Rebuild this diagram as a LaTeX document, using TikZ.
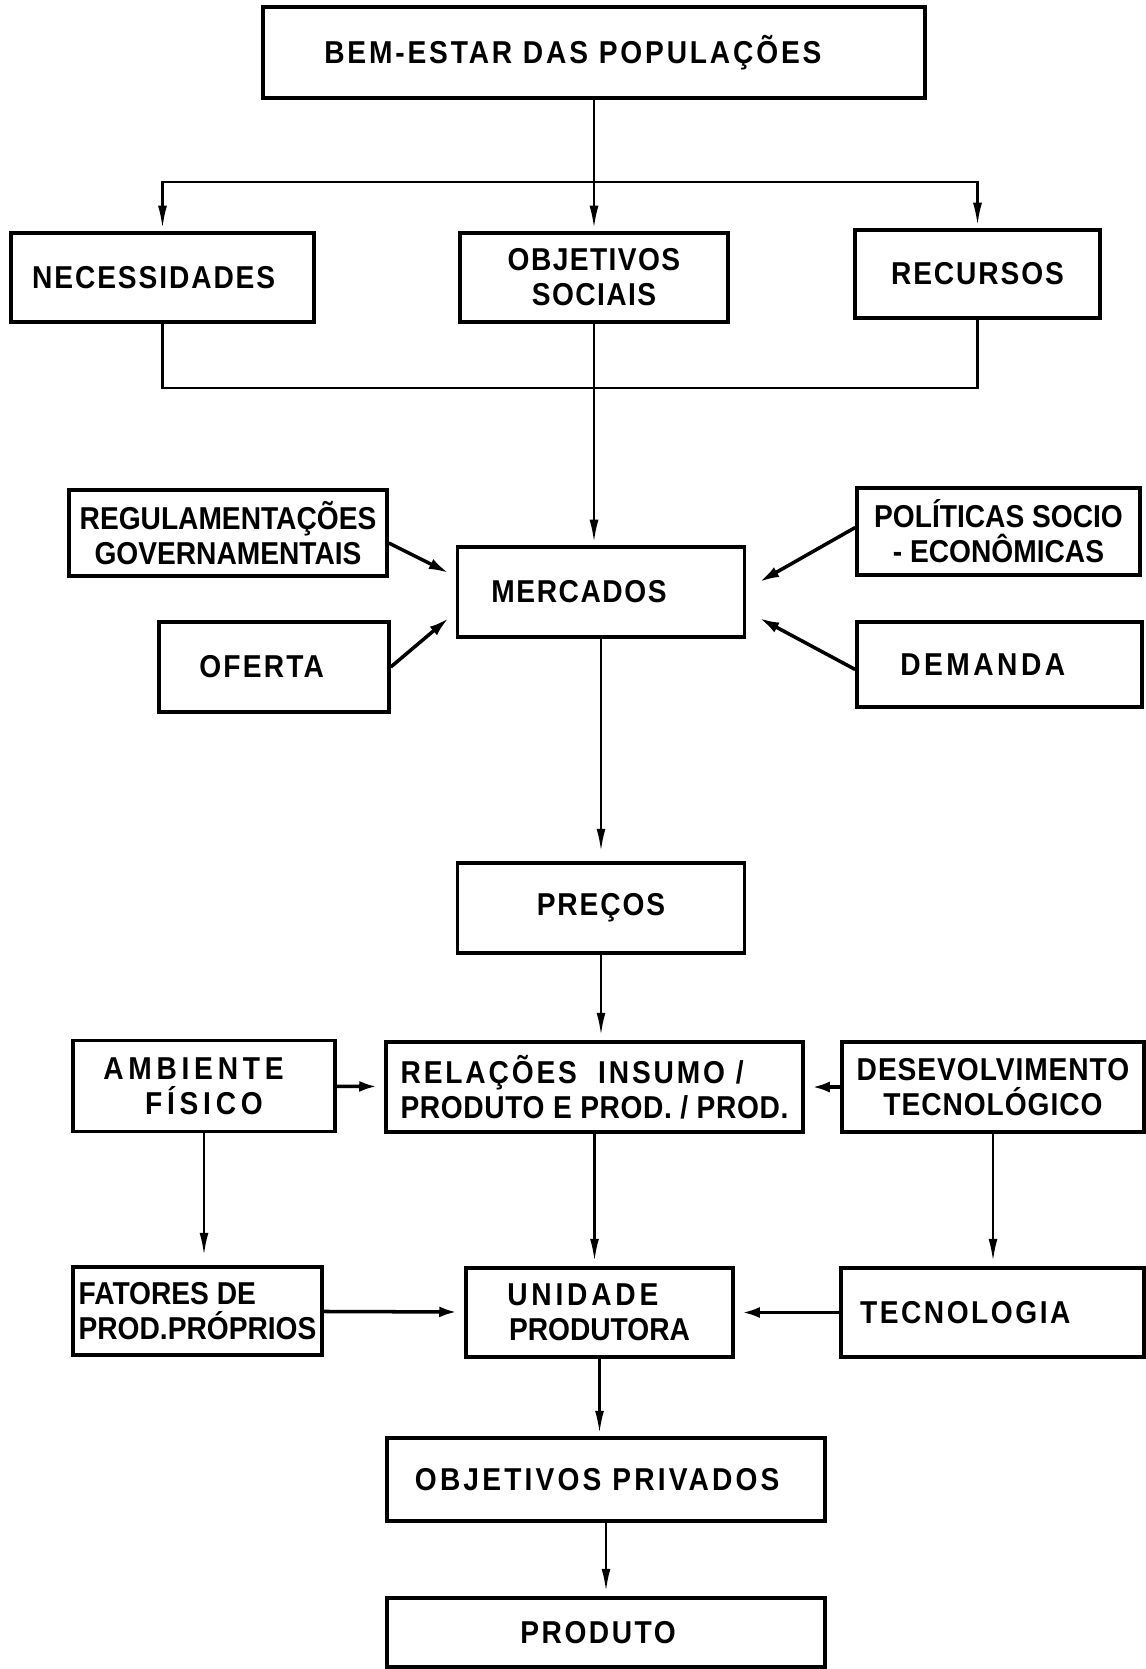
\documentclass[tikz,border=0pt]{standalone}
\usepackage{fontspec}
\setmainfont{Liberation Sans}[FakeStretch=0.89]
\usepackage{tikz}
\usetikzlibrary{shapes,arrows.meta,positioning,calc}

\begin{document}
\begin{tikzpicture}[x=0.2mm,y=-0.2mm,
    box/.style={draw, line width=2pt, inner sep=0pt, align=center,
      font=\fontsize{18}{20}\selectfont\bfseries},
    esp/.style={font=\fontsize{18}{20}\selectfont\bfseries\addfontfeature{LetterSpace=#1}},
    line/.style={line width=1.3pt},
    flecha/.style={line width=1.3pt, -{Latex[length=4.5mm,width=1.8mm]}, shorten >=0.6mm},
    diag/.style={line width=2pt, -{Latex[length=4mm,width=2.2mm]}},
    grossa/.style={line width=2pt, -{Latex[length=3.5mm,width=2.2mm]}, shorten >=1.5mm}]
    \useasboundingbox (0,0) rectangle (1146,1669);

    \node[box, esp=9, minimum width=132.4mm, minimum height=18.2mm] (bem) at (594,52.5) {\hspace*{-24pt}BEM-ESTAR DAS POPULAÇÕES};
    \node[box, esp=6, minimum width=60.6mm, minimum height=17.8mm] (nec) at (162.5,277.5) {\hspace*{-10pt}NECESSIDADES};
    \node[box, esp=4.5, minimum width=53.6mm, minimum height=17.8mm] (objsoc) at (594,277.5) {OBJETIVOS\\SOCIAIS};
    \node[box, esp=6, minimum width=49mm, minimum height=17.6mm] (rec) at (977.5,274) {RECURSOS};
    \node[box, minimum width=63.6mm, minimum height=17.2mm] (reg) at (228,533) {REGULAMENTAÇÕES\\GOVERNAMENTAIS};
    \node[box, esp=5, minimum width=57.4mm, minimum height=18mm] (merc) at (601,592) {\hspace*{-25pt}MERCADOS};
    \node[box, minimum width=56.6mm, minimum height=17.4mm] (pol) at (998.5,531.5) {POLÍTICAS SOCIO\\- ECONÔMICAS};
    \node[box, esp=7, minimum width=46mm, minimum height=18mm] (oferta) at (274,667) {\hspace*{-14pt}OFERTA};
    \node[box, esp=11, minimum width=57mm, minimum height=17mm] (dem) at (999.5,664.5) {\hspace*{-19pt}DEMANDA};
    \node[box, esp=6, minimum width=57.4mm, minimum height=18mm] (precos) at (601,908) {PREÇOS};
    \node[box, esp=15, minimum width=52.4mm, minimum height=18.2mm] (amb) at (204,1086) {\hspace*{-12pt}AMBIENTE\\FÍSICO};
    \node[box, esp=2, minimum width=83.4mm, minimum height=18mm, align=left] (rel) at (594.5,1087)
      {{\addfontfeature{LetterSpace=9}RELAÇÕES~~INSUMO /}\\PRODUTO E PROD. / PROD.};
    \node[box, esp=3, minimum width=60.4mm, minimum height=18mm] (desenv) at (993,1087) {DESEVOLVIMENTO\\TECNOLÓGICO};
    \node[box, minimum width=49.8mm, minimum height=17.6mm, align=left] (fat) at (197.5,1311) {FATORES DE\\PROD.PRÓPRIOS};
    \node[box, minimum width=53.4mm, minimum height=17.8mm] (unid) at (599.5,1312.5)
      {{\addfontfeature{LetterSpace=12}\hspace*{-19pt}UNIDADE}\\PRODUTORA};
    \node[box, esp=8, minimum width=60.6mm, minimum height=17.8mm] (tec) at (992.5,1312.5) {\hspace*{-31pt}TECNOLOGIA};
    \node[box, esp=10, minimum width=87.6mm, minimum height=16.6mm] (objpriv) at (606,1479.5) {\hspace*{-10pt}OBJETIVOS PRIVADOS};
    \node[box, esp=8, minimum width=87.6mm, minimum height=13.8mm] (prod) at (606,1632.5) {\hspace*{-9pt}PRODUTO};

    \coordinate (split) at (594,182);
    \coordinate (join) at (594,388);

    \draw [flecha] (bem.south) -- (objsoc.north);
    \foreach \n in {nec,rec}
      \draw [flecha] (split) -| (\n.north);
    \draw [line] (nec.south) |- (join) -| (rec.south);
    \draw [flecha] (objsoc.south) -- (objsoc.south |- merc.north);

    \draw [diag] ($(reg.east)+(0,10)$) -- ($(merc.west)+(-7,-19)$);
    \draw [diag] (oferta.east) -- ($(merc.west)+(-7,26)$);
    \draw [diag] ($(pol.west)+(0,-4)$) -- ($(merc.east)+(13,-10)$);
    \draw [diag] ($(dem.west)+(0,5)$) -- ($(merc.east)+(13,26)$);

    \draw [flecha, shorten >=2mm] (merc.south) -- (merc.south |- precos.north);
    \draw [flecha, shorten >=1mm] (precos.south) -- (precos.south |- rel.north);
    \draw [grossa] (amb) -- (rel);
    \draw [grossa] (desenv) -- (rel);
    \draw [flecha, shorten >=2mm] (amb.south) -- (amb.south |- fat.north);
    \draw [flecha, shorten >=1mm] (rel.south) -- (rel.south |- unid.north);
    \draw [flecha, shorten >=1mm] (desenv.south) -- (desenv.south |- tec.north);
    \draw [grossa] (fat) -- (unid);
    \draw [grossa] (tec) -- (unid);
    \draw [flecha] (unid.south) -- (unid.south |- objpriv.north);
    \draw [flecha, shorten >=1mm] (objpriv.south) -- (prod.north);
  \end{tikzpicture}
\end{document}
